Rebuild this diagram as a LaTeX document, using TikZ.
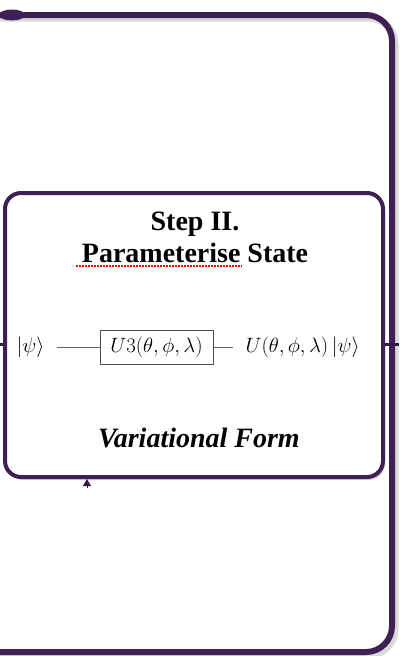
\documentclass[tikz,border=0pt]{standalone}
\usepackage{fontspec}
\newfontfamily\cambria{Liberation Serif}
\usetikzlibrary{positioning, arrows.meta, shadows}
\definecolor{stepPurple}{RGB}{62,32,84}
\tikzset{
    frameline/.style={draw=stepPurple, line width=6pt, rounded corners=26pt},
    frameshadow/.style={draw=black!25, line width=7pt, rounded corners=26pt, opacity=.6},
    stepbox/.style={rectangle, draw=stepPurple, line width=4pt, rounded corners=16pt, fill=white,
        minimum width=378pt, minimum height=284pt,
        drop shadow={shadow xshift=2pt, shadow yshift=-3pt, opacity=.35}},
    steptitle/.style={align=center, font=\cambria\bfseries\fontsize{28}{32}\selectfont},
    stepform/.style={font=\cambria\bfseries\itshape\fontsize{28}{32}\selectfont},
    gate/.style={rectangle, draw=black!70, line width=0.8pt, inner xsep=3pt, minimum width=113pt,
        minimum height=34pt, font=\fontsize{22}{26}\selectfont},
    wirelabel/.style={inner xsep=12pt, font=\fontsize{22}{26}\selectfont},
    wire/.style={draw=black!60, line width=0.8pt},
    link/.style={draw=stepPurple!80!black, line width=3pt},
}

\begin{document}
\begin{tikzpicture}[x=1pt, y=-1pt]
    \useasboundingbox (0,0) rectangle (399,656);
    % outer frame
    \draw[frameshadow] (0,18) -- (395,18) -- (395,655) -- (0,655);
    \draw[frameline] (0,15) -- (392,15) -- (392,652) -- (0,652);
    \fill[stepPurple] (12,15) ellipse (13 and 5.5);

    % step box
    \node[stepbox] (step) at (194,335) {};
    \node[steptitle] (title) at (195,237) {Step II.\\Parameterise State};
    \draw[red, dash pattern=on 1.5pt off 1.5pt, line width=1.5pt] (76,266) -- (242,266);

    % circuit
    \node[gate] (u3) at (156.5,347) {$U3(\theta,\phi,\lambda)$};
    \node[wirelabel, left=43pt of u3] (psiin) {$|\psi\rangle$};
    \node[wirelabel, right=20pt of u3] (psiout) {$U(\theta,\phi,\lambda)\,|\psi\rangle$};
    \draw[wire] (psiin) -- (u3);
    \draw[wire] (u3) -- (psiout);

    \node[stepform] (form) at (199,438) {Variational Form};

    % links to the neighbouring steps
    \coordinate (inlink) at (0,344);
    \coordinate (outlink) at (399,344);
    \coordinate (feed) at (87,488);
    \draw[link] (inlink) -- (step.west |- inlink);
    \draw[link] (step.east |- outlink) -- (outlink);
    \draw[link, line width=1pt, -{Triangle[width=8pt,length=7pt]}] (feed) -- (feed |- step.south);
\end{tikzpicture}
\end{document}
